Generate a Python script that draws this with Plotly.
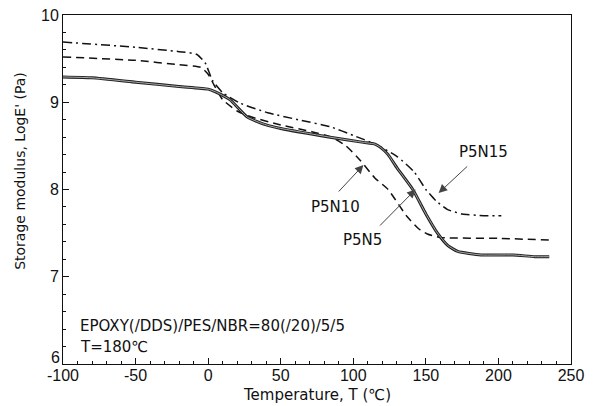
import plotly.graph_objects as go

# P5N5 (solid)
t_p5n5 = [-100, -80, -50, -20, 0, 5, 15, 27, 40, 50, 84, 107, 115, 119, 124, 130, 141, 150, 158, 165, 172, 188, 210, 225, 235]
e_p5n5 = [9.29, 9.28, 9.23, 9.18, 9.15, 9.12, 9.03, 8.83, 8.74, 8.70, 8.60, 8.54, 8.52, 8.48, 8.40, 8.25, 8.00, 7.72, 7.50, 7.36, 7.29, 7.25, 7.25, 7.23, 7.23]
# P5N10 (dashed)
t_p5n10 = [-100, -50, -20, -5, 0, 4, 10, 20, 30, 50, 72, 85, 95, 105, 115, 124, 137, 145, 151, 160, 200, 236]
e_p5n10 = [9.52, 9.48, 9.43, 9.40, 9.32, 9.20, 9.03, 8.90, 8.83, 8.74, 8.66, 8.60, 8.50, 8.33, 8.13, 8.00, 7.69, 7.55, 7.49, 7.45, 7.44, 7.42]
# P5N15 (dash-dot)
t_p5n15 = [-100, -50, -20, -8, -2, 3, 10, 22, 41, 62, 84, 100, 115, 130, 142, 150, 157, 165, 175, 190, 202]
e_p5n15 = [9.69, 9.63, 9.58, 9.55, 9.45, 9.25, 9.11, 8.99, 8.88, 8.80, 8.72, 8.62, 8.52, 8.38, 8.20, 8.00, 7.87, 7.77, 7.72, 7.70, 7.70]

x_ticks = [-100, -50, 0, 50, 100, 150, 200, 250]
x_tick_text = ["-100", "-50", "0", "50", "100", "150", "200", "250"]
y_ticks = [6, 7, 8, 9, 10]
y_tick_text = ["", "7", "8", "9", "10"]  # "6" drawn separately, nudged up off the "-100" label

fig = go.Figure()
fig.add_trace(go.Scatter(x=t_p5n15, y=e_p5n15, mode="lines",
                         line=dict(color="#111", width=1.5, dash="9px,4px,2px,4px", shape="spline", smoothing=0.5)))
fig.add_trace(go.Scatter(x=t_p5n10, y=e_p5n10, mode="lines",
                         line=dict(color="#111", width=1.5, dash="8px,5px", shape="spline", smoothing=0.5)))
fig.add_trace(go.Scatter(x=t_p5n5, y=e_p5n5, mode="lines",
                         line=dict(color="#222", width=3, shape="spline", smoothing=0.5)))
fig.add_trace(go.Scatter(x=t_p5n5, y=e_p5n5, mode="lines",
                         line=dict(color="#aaa", width=1, shape="spline", smoothing=0.5)))

font = dict(family="DejaVu Sans", size=15, color="#111")
arrow = dict(showarrow=True, arrowhead=2, arrowsize=1.7, arrowwidth=1, arrowcolor="#444", axref="x", ayref="y", standoff=0)

annots = [
    dict(x=107, y=8.28, ax=89, ay=7.96, text="", **arrow),
    dict(x=142.9, y=8.0, ax=117.4, ay=7.57, text="", **arrow),
    dict(x=158.8, y=7.96, ax=179.5, ay=8.28, text="", **arrow),
    dict(x=87.7, y=7.80, text="P5N10", showarrow=False, font=font),
    dict(x=106.4, y=7.42, text="P5N5", showarrow=False, font=font),
    dict(x=189.9, y=8.43, text="P5N15", showarrow=False, font=font),
    dict(x=-89.7, y=6.43, text="EPOXY(/DDS)/PES/NBR=80(/20)/5/5", showarrow=False, xanchor="left", font=font),
    dict(x=-89.7, y=6.20, text="T=180℃", showarrow=False, xanchor="left", font=font),
    dict(xref="paper", yref="y", x=-0.004, y=y_ticks[0], xanchor="right", yanchor="middle", yshift=7,
         text=str(y_ticks[0]), showarrow=False, borderpad=0,
         font=dict(family="Liberation Sans", size=16, color="#111")),
    dict(xref="paper", yref="paper", x=-0.085, y=0.553, xanchor="center", yanchor="middle",
         text="Storage modulus, LogE' (Pa)", textangle=-90, showarrow=False,
         font=dict(family="DejaVu Sans", size=14, color="#111")),
    dict(xref="paper", yref="paper", x=0.5, y=-0.09, xanchor="center", yanchor="middle",
         text="Temperature, T (℃)", showarrow=False,
         font=dict(family="DejaVu Sans", size=15, color="#111")),
]

fig.update_layout(
    width=599, height=406,
    margin=dict(l=63, r=28, t=15, b=42),
    paper_bgcolor="white", plot_bgcolor="white",
    showlegend=False,
    annotations=annots,
    font=dict(family="Liberation Sans", color="#111"),
)
fig.update_xaxes(
    range=[-100, 250], tickvals=x_ticks, ticktext=x_tick_text, showgrid=False, zeroline=False,
    showline=True, linecolor="#111", linewidth=1, mirror=True, automargin=False,
    ticks="inside", ticklen=6, tickcolor="#111", ticklabelstandoff=-3,
    minor=dict(ticks="inside", ticklen=3, dtick=10, tickcolor="#111", showgrid=False),
    tickfont=dict(family="Liberation Sans", size=16),
)
fig.update_yaxes(
    range=[6, 10], tickvals=y_ticks, ticktext=y_tick_text, showgrid=False, zeroline=False,
    showline=True, linecolor="#111", linewidth=1, mirror=True, automargin=False,
    ticks="inside", ticklen=6, tickcolor="#111",
    minor=dict(ticks="inside", ticklen=3, dtick=0.2, tickcolor="#111", showgrid=False),
    tickfont=dict(family="Liberation Sans", size=16),
)
fig.write_html("out.html")
